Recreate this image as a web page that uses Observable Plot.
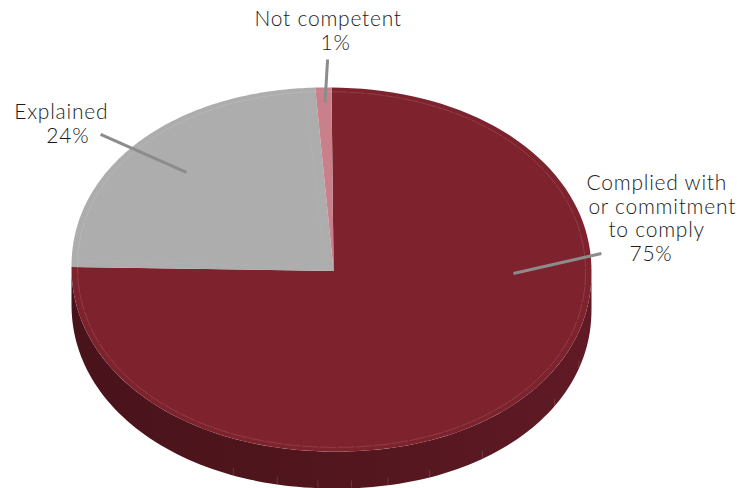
<!DOCTYPE html>
<html>
<head>
<meta charset="utf-8">
<script src="https://cdn.jsdelivr.net/npm/d3@7"></script>
<script src="https://cdn.jsdelivr.net/npm/@observablehq/plot@0.6"></script>
<style>
  html, body { margin: 0; padding: 0; background: #fff; }
  svg { display: block; }
</style>
</head>
<body>
<div id="chart"></div>
<script>
// Slices, clockwise from twelve o'clock
const categories = ["Complied with or commitment to comply", "Explained", "Not competent"];
const shares = [75, 24, 1];
const faceColors = ["#7e232e", "#adadad", "#c9808b"];

// Label text, one row per line, placed in the pie's unit coordinates
const labelText = ["Complied with", "or commitment", "to comply", "75%", "Explained", "24%", "Not competent", "1%"];
const labelX = [0.981, 0.988, 1.065, 1.146, -1.22, -1.097, -0.296, -0.042];
const labelY = [0.473, 0.341, 0.214, 0.082, 0.863, 0.731, 1.374, 1.242];

// Leader lines: outer end, inner end
const leaderX1 = [1.038, -0.888, -0.015];
const leaderY1 = [0.088, 0.742, 1.154];
const leaderX2 = [0.70, -0.558, -0.025];
const leaderY2 = [-0.022, 0.533, 0.918];

// Angles (degrees) of the short seams on the side wall
const seamAngles = [109, 122, 145, 158, 167.5, 175.6, 183, 192, 202];

const depth = 0.203;                 // wall height in unit coordinates
const apex = {x: 0.008, y: -0.008};  // where the wedges meet
const squareness = 2.08;             // rim is slightly fuller than an ellipse
const tilt = 0.014;                  // left side of the disc sits a little higher

const rim = (deg, k = 1) => {
  const t = deg * Math.PI / 180, s = Math.sin(t), c = Math.cos(t);
  const r = k / Math.pow(Math.pow(Math.abs(s), squareness) + Math.pow(Math.abs(c), squareness), 1 / squareness);
  const x = r * s;
  return {x, y: r * c - tilt * x};
};
const arc = (from, to, k = 1) =>
  d3.range(0, 121).map(i => rim(from + (to - from) * i / 120, k));

// Wedges from the shares
const pie = d3.pie().sort(null).value(d => d)(shares);
const wedges = pie.flatMap((p, i) => {
  const a0 = p.startAngle * 180 / Math.PI, a1 = p.endAngle * 180 / Math.PI;
  return [apex, ...arc(a0, a1), apex].map(q => ({...q, name: categories[i], fill: faceColors[i]}));
});

// Visible part of the side wall
const wallTop = arc(270, 90);
const wall = [...wallTop, ...wallTop.slice().reverse().map(q => ({x: q.x, y: q.y - depth}))];

const ring = arc(0, 360, 0.977);
const grayInset = [rim(272, 0.977), {x: -0.023, y: 0.011}, rim(354, 0.977)];

const seams = seamAngles.map(a => {
  const q = rim(a);
  return {x: q.x, y1: q.y - depth, y2: q.y - depth + 0.04};
});

const leaders = leaderX1.map((x1, i) => ({x1, y1: leaderY1[i], x2: leaderX2[i], y2: leaderY2[i]}));
const labels = labelText.map((text, i) => ({text, x: labelX[i], y: labelY[i]}));

const wallGradient = () => {
  const defs = d3.create("svg:defs");
  const g = defs.append("linearGradient").attr("id", "wallShade");
  g.append("stop").attr("offset", "0%").attr("stop-color", "#49131b");
  g.append("stop").attr("offset", "45%").attr("stop-color", "#50151d");
  g.append("stop").attr("offset", "100%").attr("stop-color", "#601a25");
  return defs.node();
};

const chart = Plot.plot({
  width: 737,
  height: 488,
  margin: 0,
  x: {domain: [-1, 1], range: [71, 591], axis: null},
  y: {domain: [-1, 1], range: [451, 87], axis: null},
  style: {background: "#fff", fontFamily: "Lato, sans-serif", letterSpacing: "0.75px"},
  marks: [
    wallGradient,
    Plot.line(wall, {x: "x", y: "y", fill: "url(#wallShade)", stroke: "none"}),
    Plot.ruleX(seams, {x: "x", y1: "y1", y2: "y2", stroke: "#fff", strokeOpacity: 0.18, strokeWidth: 0.8}),
    Plot.line(wedges, {x: "x", y: "y", z: "name", fill: "fill", stroke: "none"}),
    Plot.line(ring, {x: "x", y: "y", stroke: "#fff", strokeOpacity: 0.24, strokeWidth: 0.5, strokeDasharray: "16 2"}),
    Plot.line(grayInset, {x: "x", y: "y", stroke: "#d4d4d4", strokeOpacity: 0.18, strokeWidth: 0.5, strokeDasharray: "8 3"}),
    Plot.link(leaders, {x1: "x1", y1: "y1", x2: "x2", y2: "y2", stroke: "#8c8c8c", strokeWidth: 3}),
    Plot.text(labels, {x: "x", y: "y", text: "text", textAnchor: "start", fontSize: 21, fontWeight: 300, fill: "#1c1c1c"})
  ]
});
document.getElementById("chart").append(chart);
</script>
</body>
</html>
